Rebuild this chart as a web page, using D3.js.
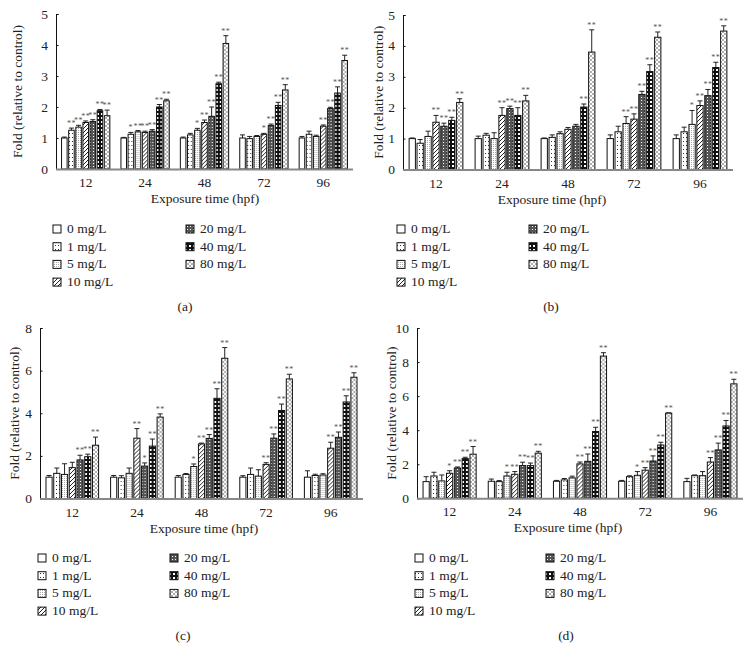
<!DOCTYPE html>
<html><head><meta charset="utf-8">
<script src="https://cdn.jsdelivr.net/npm/d3@7"></script>
<style>body{margin:0;background:#fff}svg{display:block}text{font-family:"Liberation Serif","Times New Roman",serif;fill:#222}</style>
</head><body><svg id="c" width="756" height="661"></svg>
<script>
const times = ["12","24","48","72","96"];
const doses = ["0 mg/L","1 mg/L","5 mg/L","10 mg/L","20 mg/L","40 mg/L","80 mg/L"];
const ticksAB = [0,1,2,3,4,5];
const ticksC = [0,2,4,6,8];
const ticksD = [0,2,4,6,8,10];

const meansA = [[1.0,1.25,1.35,1.5,1.53,1.88,1.72],[1.0,1.12,1.2,1.18,1.22,2.0,2.2],[1.0,1.1,1.25,1.5,1.7,2.75,4.05],[1.0,0.98,1.05,1.12,1.4,2.05,2.55],[1.0,1.12,1.05,1.38,1.95,2.45,3.5]];
const errsA = [[0.03,0.07,0.06,0.05,0.06,0.04,0.18],[0.02,0.06,0.04,0.04,0.05,0.08,0.05],[0.03,0.05,0.06,0.08,0.3,0.05,0.25],[0.1,0.07,0.03,0.03,0.05,0.1,0.17],[0.05,0.1,0.04,0.04,0.04,0.2,0.17]];
const starsA = [["","**","**","**","**","**","**"],["","*","**","**","**","**","**"],["","","*","**","**","**","**"],["","","","*","**","**","**"],["","","","**","**","**","**"]];

const meansB = [[1.0,0.85,1.07,1.53,1.4,1.59,2.17],[1.0,1.11,1.0,1.75,1.97,1.75,2.22],[1.0,1.04,1.16,1.3,1.4,2.02,3.8],[1.0,1.22,1.49,1.63,2.43,3.17,4.28],[1.0,1.22,1.46,2.07,2.39,3.3,4.48]];
const errsB = [[0.02,0.12,0.17,0.22,0.1,0.1,0.12],[0.08,0.06,0.19,0.25,0.08,0.25,0.18],[0.02,0.08,0.06,0.06,0.06,0.1,0.72],[0.12,0.18,0.22,0.17,0.1,0.22,0.17],[0.12,0.15,0.45,0.15,0.2,0.17,0.17]];
const starsB = [["","","","**","**","**","**"],["","","","**","**","**","**"],["","","","","","**","**"],["","","**","**","**","**","**"],["","","*","**","**","**","**"]];

const meansC = [[1.0,1.18,1.13,1.45,1.81,1.96,2.5],[1.0,0.97,1.18,2.83,1.52,2.46,3.82],[1.0,1.13,1.5,2.56,2.82,4.7,6.58],[1.0,1.13,1.05,1.6,2.83,4.13,5.61],[1.0,1.08,1.1,2.36,2.87,4.53,5.69]];
const errsC = [[0.08,0.25,0.5,0.25,0.22,0.12,0.38],[0.08,0.1,0.25,0.45,0.15,0.33,0.15],[0.08,0.04,0.12,0.04,0.18,0.45,0.5],[0.07,0.3,0.3,0.08,0.2,0.3,0.22],[0.3,0.06,0.06,0.28,0.25,0.29,0.21]];
const starsC = [["","","","","**","**","**"],["","","","**","*","**","**"],["","","*","**","**","**","**"],["","","","**","**","**","**"],["","","","**","**","**","**"]];

const meansD = [[0.98,1.31,1.02,1.47,1.78,2.33,2.59],[1.0,0.98,1.31,1.41,1.92,1.92,2.65],[1.0,1.08,1.2,2.02,2.17,3.92,8.35],[1.0,1.27,1.35,1.65,2.19,3.13,5.0],[0.98,1.33,1.33,2.13,2.84,4.25,6.72]];
const errsD = [[0.29,0.22,0.35,0.15,0.06,0.08,0.45],[0.13,0.06,0.22,0.16,0.2,0.15,0.11],[0.05,0.08,0.1,0.11,0.43,0.25,0.2],[0.05,0.05,0.22,0.15,0.3,0.16,0.02],[0.19,0.04,0.24,0.26,0.4,0.32,0.27]];
const starsD = [["","","","*","**","**","**"],["","","*","**","**","**","**"],["","","","**","**","**","**"],["","","*","**","**","**","**"],["","","","**","**","**","**"]];

const svg = d3.select("#c");
const defs = svg.append("defs");
function pat(id,w,h,bg,draw){const p=defs.append("pattern").attr("id",id).attr("patternUnits","userSpaceOnUse").attr("width",w).attr("height",h);p.append("rect").attr("width",w).attr("height",h).attr("fill",bg);draw(p);}
pat("p0",4,4,"#fff",p=>{});
pat("p1",3,4,"#fff",p=>{p.append("rect").attr("x",1).attr("y",1).attr("width",1).attr("height",1).attr("fill","#333");});
pat("p2",2,2,"#fff",p=>{p.append("rect").attr("x",0).attr("y",0).attr("width",1).attr("height",1).attr("fill","#aaa");});
pat("p3",4,4,"#fff",p=>{p.append("path").attr("d","M-1,1 L1,-1 M0,4 L4,0 M3,5 L5,3").attr("stroke","#222").attr("stroke-width",1);});
pat("p4",3,3,"#555",p=>{p.append("rect").attr("x",1).attr("y",1).attr("width",1).attr("height",1).attr("fill","#fff");});
pat("p5",4,4,"#111",p=>{p.append("rect").attr("x",1).attr("y",1).attr("width",2).attr("height",2).attr("fill","#fff");});
pat("p6",4,4,"#fff",p=>{p.append("path").attr("d","M0,0 L4,4 M4,0 L0,4").attr("stroke","#999").attr("stroke-width",0.8);});
const fills = doses.map((d,i)=>"url(#p"+i+")");

function panel(cfg){
  const g = svg.append("g");
  const x = d3.scaleBand().domain(times).range([cfg.x0,cfg.x1]);
  const pad = x.step()*0.085;
  const xi = d3.scaleBand().domain(d3.range(doses.length)).range([pad, x.step()-pad]).paddingInner(0.08);
  const y = d3.scaleLinear().domain([0,cfg.max]).range([cfg.y0,cfg.yTop]);
  const ya = g.append("g").attr("transform",`translate(${cfg.x0},0)`).call(d3.axisRight(y).tickValues(cfg.ticks).tickSize(2.5).tickFormat(""));
  ya.select(".domain").attr("stroke","#111");
  ya.selectAll(".tick line").attr("stroke","#111");
  g.selectAll(".yl").data(cfg.ticks).join("text").attr("x",cfg.x0-8).attr("y",d=>y(d)+4.5).attr("text-anchor","end").attr("font-size",13.5).text(d=>d);
  g.append("text").attr("transform",`translate(${cfg.ylx},${(cfg.y0+cfg.yTop)/2}) rotate(-90)`).attr("text-anchor","middle").attr("font-size",13.5).text("Fold (relative to control)");
  cfg.means.forEach((row,ti)=>{
    const gx = g.append("g").attr("transform",`translate(${x(times[ti])},0)`);
    row.forEach((v,si)=>{
      const bx = xi(si), bw = xi.bandwidth();
      const top = y(v+cfg.errs[ti][si]);
      gx.append("line").attr("x1",bx+bw/2).attr("x2",bx+bw/2).attr("y1",y(v)).attr("y2",top).attr("stroke","#222").attr("stroke-width",1);
      gx.append("line").attr("x1",bx+bw/2-2.5).attr("x2",bx+bw/2+2.5).attr("y1",top).attr("y2",top).attr("stroke","#222").attr("stroke-width",1);
      gx.append("rect").attr("x",bx+0.5).attr("y",y(v)).attr("width",bw-1).attr("height",cfg.y0-y(v)).attr("fill",fills[si]).attr("stroke","#111").attr("stroke-width",1);
      const s = cfg.stars[ti][si];
      if(s) gx.append("text").attr("x",bx+bw/2).attr("y",top-2).attr("text-anchor","middle").attr("font-size",8).attr("letter-spacing",0.5).style("fill","#555").text(s);
    });
  });
  g.append("line").attr("x1",cfg.x0).attr("x2",cfg.x1).attr("y1",cfg.y0+0.5).attr("y2",cfg.y0+0.5).attr("stroke","#888").attr("stroke-width",2);
  g.selectAll(".xl").data(times).join("text").attr("x",d=>x(d)+x.bandwidth()/2).attr("y",cfg.y0+18).attr("text-anchor","middle").attr("font-size",13.5).text(d=>d);
  g.append("text").attr("x",cfg.titleX).attr("y",cfg.y0+34).attr("text-anchor","middle").attr("font-size",13.5).text("Exposure time (hpf)");
  doses.forEach((d,i)=>{
    const col = i<4?0:1, row = i<4?i:i-4;
    const lx = col===0?cfg.lx1:cfg.lx2, ly = cfg.ly + row*17.7;
    g.append("rect").attr("x",lx).attr("y",ly-8).attr("width",8).attr("height",8).attr("fill",fills[i]).attr("stroke","#111").attr("stroke-width",1);
    g.append("text").attr("x",lx+14).attr("y",ly).attr("font-size",13.5).text(d);
  });
  g.append("text").attr("x",cfg.capX).attr("y",cfg.capY).attr("text-anchor","middle").attr("font-size",13.5).text(cfg.cap);
}

panel({x0:56,x1:353,y0:169,yTop:14,max:5,ticks:ticksAB,means:meansA,errs:errsA,stars:starsA,ylx:22,titleX:205,lx1:53,lx2:186,ly:233,capX:185,capY:311,cap:"(a)"});
panel({x0:403,x1:733,y0:169.5,yTop:15,max:5,ticks:ticksAB,means:meansB,errs:errsB,stars:starsB,ylx:383,titleX:552,lx1:397,lx2:529,ly:233,capX:551,capY:311,cap:"(b)"});
panel({x0:40,x1:363,y0:498.5,yTop:328,max:8,ticks:ticksC,means:meansC,errs:errsC,stars:starsC,ylx:19,titleX:204,lx1:38,lx2:170,ly:562,capX:183,capY:640,cap:"(c)"});
panel({x0:417,x1:743,y0:498.3,yTop:328,max:10,ticks:ticksD,means:meansD,errs:errsD,stars:starsD,ylx:396,titleX:568,lx1:415,lx2:546,ly:562,capX:566,capY:640,cap:"(d)"});
</script></body></html>
